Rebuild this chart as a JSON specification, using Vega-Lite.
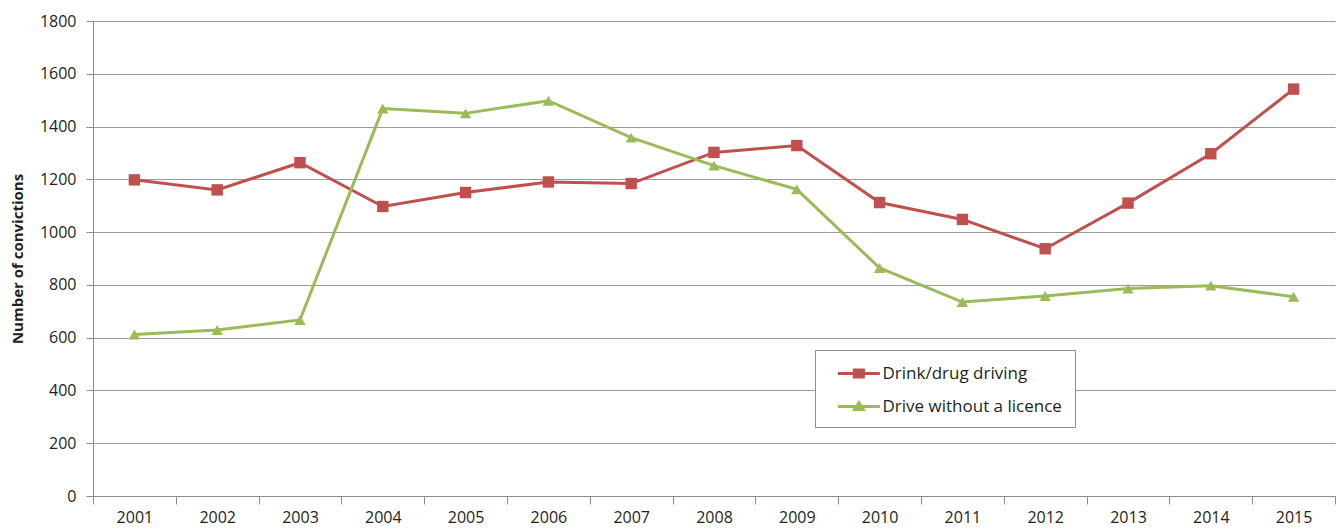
{
  "$schema": "https://vega.github.io/schema/vega-lite/v6.json",
  "width": 1242,
  "height": 475,
  "autosize": {"type": "none"},
  "padding": {"left": 93, "top": 21, "right": 5, "bottom": 32},
  "background": "white",
  "config": {
    "font": "Open Sans",
    "view": {"stroke": null}
  },
  "data": {
    "values": [
      {"year": "2001", "series": "Drink/drug driving", "value": 1198},
      {"year": "2002", "series": "Drink/drug driving", "value": 1160},
      {"year": "2003", "series": "Drink/drug driving", "value": 1263},
      {"year": "2004", "series": "Drink/drug driving", "value": 1097},
      {"year": "2005", "series": "Drink/drug driving", "value": 1150},
      {"year": "2006", "series": "Drink/drug driving", "value": 1190},
      {"year": "2007", "series": "Drink/drug driving", "value": 1184},
      {"year": "2008", "series": "Drink/drug driving", "value": 1302},
      {"year": "2009", "series": "Drink/drug driving", "value": 1328},
      {"year": "2010", "series": "Drink/drug driving", "value": 1112},
      {"year": "2011", "series": "Drink/drug driving", "value": 1048},
      {"year": "2012", "series": "Drink/drug driving", "value": 937},
      {"year": "2013", "series": "Drink/drug driving", "value": 1110},
      {"year": "2014", "series": "Drink/drug driving", "value": 1297},
      {"year": "2015", "series": "Drink/drug driving", "value": 1542},
      {"year": "2001", "series": "Drive without a licence", "value": 612},
      {"year": "2002", "series": "Drive without a licence", "value": 629},
      {"year": "2003", "series": "Drive without a licence", "value": 667},
      {"year": "2004", "series": "Drive without a licence", "value": 1468},
      {"year": "2005", "series": "Drive without a licence", "value": 1450},
      {"year": "2006", "series": "Drive without a licence", "value": 1498},
      {"year": "2007", "series": "Drive without a licence", "value": 1358},
      {"year": "2008", "series": "Drive without a licence", "value": 1252},
      {"year": "2009", "series": "Drive without a licence", "value": 1162},
      {"year": "2010", "series": "Drive without a licence", "value": 864},
      {"year": "2011", "series": "Drive without a licence", "value": 735},
      {"year": "2012", "series": "Drive without a licence", "value": 758},
      {"year": "2013", "series": "Drive without a licence", "value": 786},
      {"year": "2014", "series": "Drive without a licence", "value": 797},
      {"year": "2015", "series": "Drive without a licence", "value": 755}
    ]
  },
  "encoding": {
    "x": {
      "field": "year",
      "type": "ordinal",
      "bandPosition": 0.5,
      "scale": {"type": "band", "paddingInner": 0, "paddingOuter": 0},
      "axis": {
        "title": null,
        "labelAngle": 0,
        "tickBand": "extent",
        "labelFontSize": 16,
        "labelColor": "#231f20",
        "labelPadding": 5,
        "tickSize": 8,
        "tickColor": "#8c8c8c",
        "domainColor": "#8c8c8c",
        "grid": false
      }
    },
    "y": {
      "field": "value",
      "type": "quantitative",
      "scale": {"domain": [0, 1800]},
      "axis": {
        "title": "Number of convictions",
        "titleFontSize": 15,
        "titleFontWeight": "bold",
        "titleColor": "#231f20",
        "titlePadding": 14,
        "format": "d",
        "values": [0, 200, 400, 600, 800, 1000, 1200, 1400, 1600, 1800],
        "labelFontSize": 16,
        "labelColor": "#231f20",
        "labelPadding": 10,
        "tickSize": 7,
        "tickColor": "#8c8c8c",
        "domainColor": "#8c8c8c",
        "grid": true,
        "gridColor": "#9a9a9a",
        "gridWidth": 1.2
      }
    },
    "color": {
      "field": "series",
      "type": "nominal",
      "scale": {"domain": ["Drink/drug driving", "Drive without a licence"], "range": ["#c0504d", "#9bbb59"]},
      "legend": {
        "title": null,
        "orient": "none",
        "legendX": 722,
        "legendY": 329,
        "padding": 12.5,
        "strokeColor": "#8c8c8c",
        "fillColor": "white",
        "symbolSize": 484,
        "rowPadding": 14,
        "labelOffset": 33,
        "labelFontSize": 17,
        "labelColor": "#231f20",
        "labelLimit": 400,
        "encode": {
          "symbols": {
            "update": {
              "shape": {"signal": "datum.value == 'Drink/drug driving' ? 'M-0.05,-0.14H3.76V0.14H-0.05Z M1.3,-0.45H2.4V0.45H1.3Z' : 'M-0.05,-0.14H3.76V0.14H-0.05Z M1.85,-0.6L2.5,0.42H1.2Z'"},
              "fill": {"scale": "color", "field": "value"},
              "fillOpacity": {"value": 1},
              "strokeWidth": {"value": 0},
              "opacity": {"value": 1}
            }
          }
        }
      }
    }
  },
  "layer": [
    {
      "mark": {"type": "line", "strokeWidth": 3},
      "encoding": {}
    },
    {
      "transform": [{"filter": "datum.series == 'Drink/drug driving'"}],
      "mark": {"type": "point", "filled": true, "opacity": 1, "size": 130, "shape": "square"},
      "encoding": {}
    },
    {
      "transform": [{"filter": "datum.series == 'Drive without a licence'"}],
      "mark": {"type": "point", "filled": true, "opacity": 1, "size": 130, "shape": "triangle-up"},
      "encoding": {}
    }
  ]
}
